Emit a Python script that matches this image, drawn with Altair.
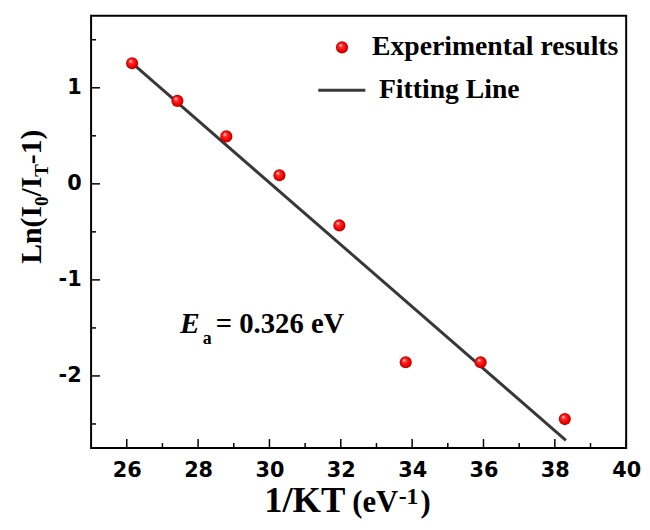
import altair as alt
import pandas as pd

# ---- data ----
x_vals = [26.15, 27.42, 28.79, 30.28, 31.96, 33.82, 35.92, 38.28]
y_vals = [1.256, 0.864, 0.494, 0.089, -0.433, -1.858, -1.858, -2.449]
fit_x = [26.15, 38.31]
fit_y = [1.256, -2.671]
x_major = [26, 28, 30, 32, 34, 36, 38, 40]
x_minor = [27, 29, 31, 33, 35, 37, 39]
y_major = [-2, -1, 0, 1]
y_minor = [-2.5, -1.5, -0.5, 0.5, 1.5]

W, H = 541, 437
SERIF = "Liberation Serif"
SANS = "DejaVu Sans"

xs = alt.Scale(domain=[25, 40], nice=False, zero=False)
ys = alt.Scale(domain=[-2.75, 1.75], nice=False, zero=False)

xaxis = alt.Axis(values=x_major, ticks=False, tickSize=0, domain=False, grid=False,
                 labelFont=SANS, labelFontWeight="bold", labelFontSize=21,
                 labelColor="black", labelPadding=12, labelExpr="'' + datum.value",
                 labelFlush=False, labelOverlap=False, title=None)
yaxis = alt.Axis(values=y_major, ticks=False, tickSize=0, domain=False, grid=False,
                 labelFont=SANS, labelFontWeight="bold", labelFontSize=21,
                 labelColor="black", labelPadding=10, labelExpr="'' + datum.value",
                 labelOverlap=False, title=None)

grad = alt.RadialGradient(
    gradient="radial",
    stops=[alt.GradientStop(color="#ffffff", offset=0),
           alt.GradientStop(color="#ff3030", offset=0.3),
           alt.GradientStop(color="#f00000", offset=0.75),
           alt.GradientStop(color="#b00000", offset=1)],
    x1=0.35, y1=0.3, r1=0, x2=0.5, y2=0.5, r2=0.5)

pts = pd.DataFrame({"x": x_vals, "y": y_vals})
fit = pd.DataFrame({"x": fit_x, "y": fit_y})
one = pd.DataFrame({"a": [0]})

fit_line = alt.Chart(fit).mark_line(color="#383838", strokeWidth=3).encode(
    x=alt.X("x:Q", scale=xs, axis=xaxis),
    y=alt.Y("y:Q", scale=ys, axis=yaxis))

points = alt.Chart(pts).mark_point(shape="circle", filled=True, fill=grad, size=150,
                                   opacity=1, strokeWidth=0).encode(
    x=alt.X("x:Q", scale=xs, axis=xaxis),
    y=alt.Y("y:Q", scale=ys, axis=yaxis))

def xticks(vals, length):
    return alt.Chart(pd.DataFrame({"v": vals})).mark_rule(color="black", strokeWidth=1.5).encode(
        x=alt.X("v:Q", scale=xs, axis=xaxis), y=alt.value(H), y2=alt.value(H - length))

def yticks(vals, length):
    return alt.Chart(pd.DataFrame({"v": vals})).mark_rule(color="black", strokeWidth=1.5).encode(
        y=alt.Y("v:Q", scale=ys, axis=yaxis), x=alt.value(0), x2=alt.value(length))

def label(text, x, y, size, angle=0, italic=False):
    kw = dict(text=text, align="left", baseline="alphabetic", font=SERIF,
              fontWeight="bold", fontSize=size, color="black")
    if angle:
        kw["angle"] = angle
    if italic:
        kw["fontStyle"] = "italic"
    return alt.Chart(one).mark_text(**kw).encode(x=alt.value(x), y=alt.value(y))

# legend
leg_sym = alt.Chart(one).mark_point(shape="circle", filled=True, fill=grad, size=150,
                                    opacity=1, strokeWidth=0).encode(
    x=alt.value(253.7), y=alt.value(32))
leg_line = alt.Chart(one).mark_rule(color="#383838", strokeWidth=3).encode(
    x=alt.value(229.7), x2=alt.value(277.3), y=alt.value(75.3))

layers = [
    fit_line, points,
    xticks(x_major, 9), xticks(x_minor, 5),
    yticks(y_major, 9), yticks(y_minor, 5),
    leg_sym, leg_line,
    label("Experimental results", 284, 39.3, 28),
    label("Fitting Line", 291, 83, 28),
    # annotation
    label("E", 90, 320.3, 30, italic=True),
    label("a", 113, 332, 18),
    label("= 0.326 eV", 126, 320.3, 29),
    # x title
    label("1/KT", 175, 502, 37),
    label("(eV", 264, 502, 31),
    label("-1", 311, 494, 24),
    label(")", 333, 502, 31),
    # y title (rotated)
    label("Ln(I", -51, 250.7, 30, angle=270),
    label("0", -44, 192.3, 19, angle=270),
    label("/I", -51, 182.8, 30, angle=270),
    label("T", -44, 162.8, 19, angle=270),
    label("-1)", -51, 150.1, 30, angle=270),
]

chart = alt.layer(*layers).properties(
    width=W, height=H,
    autosize=alt.AutoSizeParams(type="none"),
    padding={"left": 84, "top": 5, "right": 16, "bottom": 72},
).configure_view(stroke="black", strokeWidth=2)

chart.save("out.html", embed_options={"renderer": "svg", "actions": False})
